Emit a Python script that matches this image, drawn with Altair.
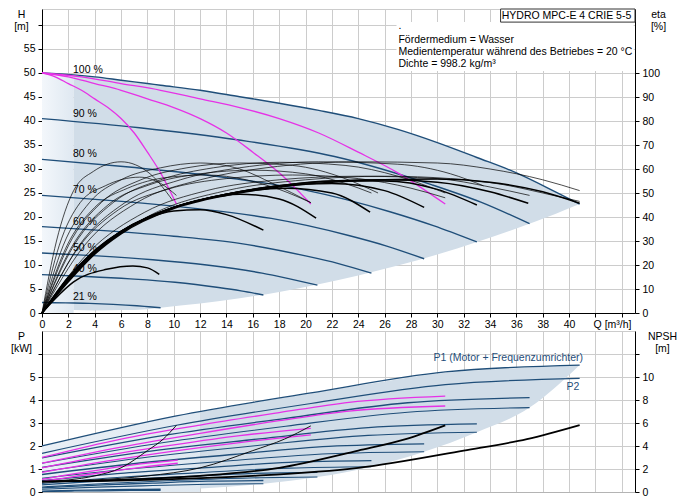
import altair as alt
import pandas as pd

FONT = "Liberation Sans"
BLUE = "#1f4e79"
PINK = "#e632e6"
SHADE = "#d1dde8"
GRID = "#cccccc"

# Förderhöhe H [m] je Drehzahlstufe, Q in m³/h
head_q = {
    "100 %": [0, 2.4, 4, 6, 8, 9, 12, 15, 18, 21, 24, 27, 30, 33, 36, 39, 40.8],
    "90 %": [0, 7.4, 14.8, 22.2, 29.6, 33.3, 37],
    "80 %": [0, 6.6, 13.2, 19.8, 26.4, 29.7, 33],
    "70 %": [0, 5.8, 11.6, 17.4, 23.2, 26.1, 29],
    "60 %": [0, 5, 10, 15, 20, 22.5, 25],
    "50 %": [0, 4.2, 8.4, 12.5, 16.7, 18.8, 20.9],
    "40 %": [0, 3.4, 6.7, 10.1, 13.4, 15.1, 16.8],
    "21 %": [0, 1.8, 3.6, 5.4, 7.2, 8.1, 9],
}
head_h = {
    "100 %": [50, 49.6, 49.2, 48.5, 47.8, 47.45, 46.4, 45.05, 43.7, 42.2, 40.5, 38.25, 35.5, 32.4, 29.2, 25.2, 22.7],
    "90 %": [40.5, 38.6, 36.1, 32.6, 26.7, 23.1, 18.6],
    "80 %": [32, 30.4, 28.5, 25.7, 21.1, 18.2, 14.8],
    "70 %": [24.5, 23.3, 21.8, 19.7, 16.2, 14, 11.3],
    "60 %": [18, 17.1, 16, 14.5, 11.9, 10.3, 8.3],
    "50 %": [12.5, 11.9, 11.1, 10, 8.3, 7.1, 5.8],
    "40 %": [8, 7.6, 7.1, 6.4, 5.3, 4.6, 3.75],
    "21 %": [2.2, 2.1, 2.0, 1.8, 1.5, 1.3, 1.1],
}

# 1, 2, 3 Pumpen bei 100 %
pump_q = {
    "1": [0, 1, 2, 3, 4, 5, 6, 7, 8, 9, 10.2],
    "2": [0, 2, 4, 6, 8, 10, 12, 14, 16, 18, 20.4],
    "3": [0, 3, 6, 9, 12, 15, 18, 21, 24, 27, 30.6],
}
pump_h = {
    "1": [50, 49.2, 47.8, 46.4, 44.6, 42.8, 40.5, 37.5, 33.5, 29.2, 22.7],
    "2": [50, 49.2, 47.8, 46.4, 44.6, 42.8, 40.5, 37.5, 33.5, 29.2, 22.7],
    "3": [50, 49.2, 47.8, 46.4, 44.6, 42.8, 40.5, 37.5, 33.5, 29.2, 22.7],
}

# Kennfeld (Fläche)
field_q = [2.4, 4, 6, 8, 9, 12, 15, 18, 21, 24, 27, 30, 33, 36, 39, 40.8]
field_top = [49.6, 49.2, 48.5, 47.8, 47.45, 46.4, 45.05, 43.7, 42.2, 40.5, 38.25, 35.5, 32.4, 29.2, 25.2, 22.7]
field_bottom = [0.6, 0.5, 0.6, 0.8, 1.1, 1.96, 3.06, 4.4, 6.0, 7.83, 9.9, 12.2, 14.8, 17.6, 20.7, 22.7]
field_left_q = [0, 2.4]
field_left_top = [50, 49.6]

# Wirkungsgrad eta [%], dünne Kurven
eta_thin_q = {
    "t1": [0, 1.1, 2.4, 3.9, 6, 8.2, 9.9],
    "t2": [0, 1.3, 2.9, 4.8, 7.4, 9, 10.2],
    "t3": [0, 1.6, 3.6, 6, 9, 12, 15, 17.5, 20.4],
    "t4": [0, 2, 4.5, 7.5, 11, 15, 19, 23, 25.5],
    "t5": [0, 2.4, 5.4, 9, 13, 18, 23, 27, 30.6],
    "t6": [0, 2.8, 6.3, 10.5, 15, 21, 27, 31, 33.5],
    "t7": [0, 3.2, 7.2, 12, 17, 24, 30, 34, 38, 40.8],
    "t8": [0, 1.8, 4, 6.5, 9.5, 12.5, 15.5, 18, 20.4],
    "t9": [0, 2.6, 5.8, 9.5, 14, 19, 24, 28, 30.6],
    "t10": [0, 3.5, 7.8, 12.5, 18, 24, 30, 34, 37],
    "t11": [0, 2.2, 5, 8.2, 12, 16, 20, 23, 25],
    "t12": [0, 4, 8.5, 14, 20, 26, 31, 35, 38, 40.8],
}
eta_thin_v = {
    "t1": [0, 30, 51, 59, 63, 58, 47],
    "t2": [0, 28, 46, 53, 56.6, 54, 49],
    "t3": [0, 28, 46, 55.5, 60.5, 62.5, 60, 54, 46],
    "t4": [0, 28, 46, 55.5, 60.5, 62.5, 61.5, 56, 50],
    "t5": [0, 28, 46, 55.5, 60.5, 62.8, 61.5, 57, 50],
    "t6": [0, 28, 46, 55.5, 60.5, 63, 62, 58, 53],
    "t7": [0, 28, 46, 55.5, 60.5, 63, 62.5, 60, 55.5, 51],
    "t8": [0, 27, 44, 52, 56.5, 57.5, 55.5, 51.5, 46],
    "t9": [0, 26, 43, 51.5, 56, 57.5, 56, 52, 48],
    "t10": [0, 25, 42, 51, 55.5, 57, 56, 52.5, 49],
    "t11": [0, 27, 45, 53.5, 58, 59.5, 58, 54, 50],
    "t12": [0, 25, 41.5, 51, 55.5, 57, 56, 53.5, 50, 46.5],
}
# dicke Kurven je Drehzahl
eta_thick_q = {
    "21": [0, 1, 2.4, 4.9, 6.9, 8, 8.9],
    "40": [0, 2, 4, 6, 8, 10, 12, 14, 16.8],
    "50": [0, 2, 4, 6, 9, 12, 15, 18, 20.8],
    "60": [0, 2, 4, 6, 10, 14, 18.5, 22, 24.9],
    "70": [0, 2, 4, 6, 10, 14, 18, 22, 26, 29],
    "80": [0, 2, 4, 6, 10, 14, 18, 22, 26, 30, 33],
    "90": [0, 2, 4, 6, 10, 14, 18, 22, 26, 30, 34, 36.9],
    "100": [0, 2, 4, 6, 10, 14, 18, 22, 26, 30, 34, 38, 40.8],
}
eta_thick_v = {
    "21": [0, 6, 13, 18.2, 19.6, 18.8, 16.1],
    "40": [0, 15, 26, 34, 39.5, 42.5, 43, 41, 34.5],
    "50": [0, 14.5, 26, 34, 42, 47, 49.5, 47.5, 39.5],
    "60": [0, 14, 25.5, 34, 44, 49.5, 52, 50, 42],
    "70": [0, 14, 25.5, 34, 44, 49.5, 53, 54, 51, 44],
    "80": [0, 13.5, 25, 33.5, 44, 49.5, 53, 55, 55, 51.5, 45],
    "90": [0, 13.5, 25, 33.5, 44, 49.5, 53, 55, 55.5, 54.5, 50.5, 45.7],
    "100": [0, 13, 24.5, 33, 43.5, 49, 52.5, 54.5, 55.5, 55.8, 54.5, 50.5, 45.7],
}

speed_labels = ["100 %", "90 %", "80 %", "70 %", "60 %", "50 %", "40 %", "21 %"]
speed_label_h = [50.6, 41.5, 33.1, 25.6, 19.0, 13.5, 9.2, 3.3]

info_lines = [".", "Fördermedium = Wasser",
              "Medientemperatur während des Betriebes = 20 °C",
              "Dichte = 998.2 kg/m³"]
info_h = [59.8, 56.9, 54.3, 51.8]

# Leistung P [kW]
p1_q = {
    "100": [0, 10.2, 20.4, 30.6, 40.8],
    "90": [0, 9.25, 18.5, 27.75, 37],
    "80": [0, 8.25, 16.5, 24.75, 33],
    "70": [0, 7.25, 14.5, 21.75, 29],
    "60": [0, 6.25, 12.5, 18.75, 25],
    "50": [0, 5.2, 10.45, 15.7, 20.9],
    "40": [0, 4.2, 8.4, 12.6, 16.8],
    "21": [0, 2.25, 4.5, 6.75, 9],
}
p1_v = {
    "100": [2.0, 3.31, 4.31, 5.22, 5.52],
    "90": [1.48, 2.46, 3.2, 3.88, 4.1],
    "80": [1.07, 1.78, 2.31, 2.8, 2.96],
    "70": [0.76, 1.25, 1.63, 1.98, 2.09],
    "60": [0.49, 0.82, 1.06, 1.29, 1.36],
    "50": [0.31, 0.51, 0.66, 0.8, 0.85],
    "40": [0.18, 0.3, 0.39, 0.47, 0.5],
    "21": [0.04, 0.07, 0.09, 0.11, 0.12],
}
p2_v = {
    "100": [1.68, 2.9, 3.85, 4.67, 4.94],
    "90": [1.25, 2.15, 2.86, 3.47, 3.67],
    "80": [0.88, 1.53, 2.03, 2.46, 2.6],
    "70": [0.6, 1.03, 1.37, 1.66, 1.75],
    "60": [0.37, 0.65, 0.86, 1.04, 1.1],
    "50": [0.22, 0.38, 0.51, 0.61, 0.65],
    "40": [0.12, 0.21, 0.28, 0.34, 0.36],
    "21": [0.02, 0.04, 0.05, 0.066, 0.07],
}
pink_p_q = {
    "3P1": [0, 6, 12, 18, 23.3, 30.6],
    "3P2": [0, 6, 12, 18, 23.3, 30.6],
    "2P1": [0, 5, 10, 15, 20.4],
    "2P2": [0, 5, 10, 15, 20.4],
    "1P1": [0, 2.5, 5, 7.5, 10.3],
    "1P2": [0, 2.5, 5, 7.5, 10.3],
}
pink_p_v = {
    "3P1": [1.5, 2.3, 2.91, 3.45, 3.9, 4.17],
    "3P2": [1.25, 1.95, 2.55, 3.1, 3.52, 3.74],
    "2P1": [1.05, 1.6, 2.05, 2.45, 2.77],
    "2P2": [0.85, 1.35, 1.78, 2.15, 2.48],
    "1P1": [0.55, 0.8, 1.02, 1.22, 1.39],
    "1P2": [0.45, 0.68, 0.88, 1.07, 1.25],
}
pfield_left_q = [0, 5, 10.2, 12]
pfield_left_top = [2.0, 2.64, 3.31, 3.49]
pfield_q = [12, 16.8, 20.9, 25, 29, 33, 37, 40.8]
pfield_top = [3.49, 3.96, 4.35, 4.72, 5.08, 5.29, 5.41, 5.52]
pfield_bottom = [0.15, 0.36, 0.65, 1.1, 1.75, 2.6, 3.67, 5.52]

# NPSH [m]
npsh_q = {
    "1": [0, 2, 4, 6, 8, 9.2, 10.2],
    "2": [0, 4, 8, 12, 16, 18.4, 20.4],
    "3": [0, 6, 12, 18, 24, 27.6, 30.6],
    "4": [0, 8, 16, 24, 32, 36.8, 40.8],
}
npsh_v = {
    "1": [0.9, 1.05, 1.4, 2.1, 3.6, 4.6, 5.8],
    "2": [0.9, 1.05, 1.4, 2.1, 3.6, 4.6, 5.75],
    "3": [0.9, 1.05, 1.4, 2.1, 3.6, 4.6, 5.8],
    "4": [0.9, 1.05, 1.4, 2.1, 3.6, 4.6, 5.82],
}


def to_long(qs, vs, name, keys=None):
    rows = []
    for key in (keys or qs.keys()):
        for q, v in zip(qs[key], vs[key]):
            rows.append({"series": key, "q": q, name: v})
    return pd.DataFrame(rows)


hide_x = "datum.value > 40 ? '' : datum.label"
x_axis = alt.Axis(values=list(range(0, 45, 2)), labelExpr=hide_x, tickSize=4,
                  labelPadding=2, labelFlush=False, title="Q [m³/h]",
                  titleX=570, titleY=6, titleBaseline="top", titleAlign="center")
X = alt.X("q:Q", scale=alt.Scale(domain=[0, 45], nice=False), axis=x_axis)
# unten: Achse ohne sichtbare Beschriftung (liegt unter dem Bildrand)
X_B = alt.X("q:Q", scale=alt.Scale(domain=[0, 45], nice=False),
            axis=alt.Axis(values=list(range(0, 45, 2)), labels=False,
                          ticks=False, title=None, domainColor="#b4b4b4"))

Y_H = alt.Y("h:Q", scale=alt.Scale(domain=[0, 63.33], nice=False),
            axis=alt.Axis(values=list(range(0, 61, 5)),
                          labelExpr="datum.value > 55 ? '' : datum.label",
                          tickSize=4, labelPadding=3, title=["H", "[m]"],
                          titleAngle=0, titleX=-21, titleY=0,
                          titleBaseline="top", titleAlign="center"))
Y_ETA = alt.Y("eta:Q", scale=alt.Scale(domain=[0, 126.67], nice=False),
              axis=alt.Axis(orient="right", values=list(range(0, 101, 10)),
                            grid=False, tickSize=4, labelPadding=3,
                            title=["eta", "[%]"], titleAngle=0, titleX=23,
                            titleY=0, titleBaseline="top", titleAlign="center"))

left_light = alt.Chart(pd.DataFrame({
    "q": field_left_q, "h": field_left_top, "h2": [0, 0]})).mark_area(
    color=alt.Gradient(gradient="linear", x1=0, x2=1, y1=0, y2=0,
                       stops=[alt.GradientStop(color="#f3f7fb", offset=0),
                              alt.GradientStop(color="#dfe8f1", offset=1)]),
    interpolate="monotone").encode(x=X, y=Y_H, y2="h2")

field = alt.Chart(pd.DataFrame({
    "q": field_q, "h": field_top, "h2": field_bottom})).mark_area(
    color=SHADE, interpolate="monotone").encode(x=X, y=Y_H, y2="h2")

speeds = alt.Chart(to_long(head_q, head_h, "h")).mark_line(
    color=BLUE, strokeWidth=1.4, interpolate="monotone").encode(
    x=X, y=Y_H, detail="series:N")

pumps = alt.Chart(to_long(pump_q, pump_h, "h")).mark_line(
    color=PINK, strokeWidth=1.3, interpolate="monotone").encode(
    x=X, y=Y_H, detail="series:N")

info_box = alt.Chart(pd.DataFrame({
    "q": [26.9], "q2": [44.9], "h": [50.4], "h2": [60.6]})).mark_rect(
    color="white").encode(x=X, x2="q2", y=Y_H, y2="h2")

info_text = alt.Chart(pd.DataFrame({
    "q": [27.05] * 4, "h": info_h, "label": info_lines})).mark_text(
    align="left", baseline="middle", font=FONT, fontSize=10.5,
    color="black").encode(x=X, y=Y_H, text="label:N")

title_box = alt.Chart(pd.DataFrame({
    "q": [34.8], "q2": [45], "h": [60.6], "h2": [63.33]})).mark_rect(
    fill="white", stroke="#333333", strokeWidth=1).encode(
    x=X, x2="q2", y=Y_H, y2="h2")

title_text = alt.Chart(pd.DataFrame({
    "q": [39.8], "h": [61.95], "label": ["HYDRO MPC-E 4 CRIE 5-5"]})).mark_text(
    align="center", baseline="middle", font=FONT, fontSize=10.5,
    color="black").encode(x=X, y=Y_H, text="label:N")

speed_text = alt.Chart(pd.DataFrame({
    "q": [2.35] * len(speed_labels), "h": speed_label_h,
    "label": speed_labels})).mark_text(
    align="left", baseline="middle", font=FONT, fontSize=10.5,
    color="black").encode(x=X, y=Y_H, text="label:N")

eta_thin = alt.Chart(to_long(eta_thin_q, eta_thin_v, "eta")).mark_line(
    color="black", strokeWidth=0.7, interpolate="monotone").encode(
    x=X, y=Y_ETA, detail="series:N")
eta_thick = alt.Chart(to_long(eta_thick_q, eta_thick_v, "eta")).mark_line(
    color="black", strokeWidth=1.5, interpolate="monotone").encode(
    x=X, y=Y_ETA, detail="series:N")

top = alt.layer(
    alt.layer(left_light, field, speeds, pumps, info_box, info_text,
              title_box, title_text, speed_text),
    alt.layer(eta_thin, eta_thick),
).resolve_scale(y="independent").properties(width=593, height=304)

# --- unten: Leistung und NPSH
Y_P = alt.Y("p:Q", scale=alt.Scale(domain=[0, 7], nice=False),
            axis=alt.Axis(values=list(range(0, 7)),
                          labelExpr="datum.value > 5 ? '' : datum.label",
                          tickSize=4, labelPadding=3, title=["P", "[kW]"],
                          titleAngle=0, titleX=-21, titleY=0,
                          titleBaseline="top", titleAlign="center"))
Y_NPSH = alt.Y("npsh:Q", scale=alt.Scale(domain=[0, 14], nice=False),
               axis=alt.Axis(orient="right", values=list(range(0, 13, 2)),
                             labelExpr="datum.value > 10 ? '' : datum.label",
                             grid=False, tickSize=4, labelPadding=3,
                             title=["NPSH", "[m]"], titleAngle=0, titleX=27,
                             titleY=0, titleBaseline="top", titleAlign="center"))

p_light = alt.Chart(pd.DataFrame({
    "q": pfield_left_q, "p": pfield_left_top, "p2": [0, 0, 0, 0]})).mark_area(
    color=alt.Gradient(gradient="linear", x1=0, x2=1, y1=0, y2=0,
                       stops=[alt.GradientStop(color="#eaf0f6", offset=0),
                              alt.GradientStop(color="#e0e9f1", offset=1)]),
    interpolate="monotone").encode(x=X_B, y=Y_P, y2="p2")

p_field = alt.Chart(pd.DataFrame({
    "q": pfield_q, "p": pfield_top, "p2": pfield_bottom})).mark_area(
    color=SHADE, interpolate="monotone").encode(x=X_B, y=Y_P, y2="p2")

p1_lines = alt.Chart(to_long(p1_q, p1_v, "p")).mark_line(
    color=BLUE, strokeWidth=1.3, interpolate="monotone").encode(
    x=X_B, y=Y_P, detail="series:N")
p2_lines = alt.Chart(to_long(p1_q, p2_v, "p")).mark_line(
    color=BLUE, strokeWidth=1.1, interpolate="monotone").encode(
    x=X_B, y=Y_P, detail="series:N")
p_pink = alt.Chart(to_long(pink_p_q, pink_p_v, "p")).mark_line(
    color=PINK, strokeWidth=1.3, interpolate="monotone").encode(
    x=X_B, y=Y_P, detail="series:N")

p_text = alt.Chart(pd.DataFrame({
    "q": [29.7, 39.8], "p": [5.83, 4.57],
    "label": ["P1 (Motor + Frequenzumrichter)", "P2"]})).mark_text(
    align="left", baseline="middle", font=FONT, fontSize=10.5,
    color=BLUE).encode(x=X_B, y=Y_P, text="label:N")

npsh_thin = alt.Chart(to_long(npsh_q, npsh_v, "npsh", ["1", "2"])).mark_line(
    color="black", strokeWidth=0.9, interpolate="monotone").encode(
    x=X_B, y=Y_NPSH, detail="series:N")
npsh_thick = alt.Chart(to_long(npsh_q, npsh_v, "npsh", ["3", "4"])).mark_line(
    color="black", strokeWidth=1.8, interpolate="monotone").encode(
    x=X_B, y=Y_NPSH, detail="series:N")

bottom = alt.layer(
    alt.layer(p_light, p_field, p1_lines, p2_lines, p_pink, p_text),
    alt.layer(npsh_thin, npsh_thick),
).resolve_scale(y="independent").properties(width=593, height=161)

chart = alt.vconcat(top, bottom, spacing=0).properties(
    padding={"left": 2, "top": 0, "right": 0, "bottom": 0}
).configure_view(stroke=GRID).configure_axis(
    labelFont=FONT, labelFontSize=10.5, labelColor="black",
    titleFont=FONT, titleFontSize=10.5, titleFontWeight="normal",
    titleColor="black", domainColor="black", tickColor="black",
    gridColor=GRID, gridWidth=1,
)

chart.save("out.html", embed_options={"renderer": "svg", "actions": False})
